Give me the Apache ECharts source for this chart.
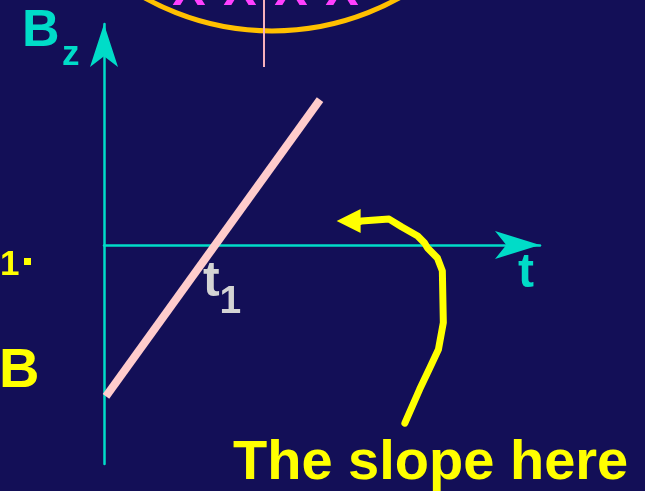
<!DOCTYPE html>
<html lang="en" style="height: 100%">
<head>
<meta charset="utf-8">
</head>
<body style="height: 100%; margin: 0; background: #130f57">
<div id="container" style="width: 645px; height: 491px"></div>
<script type="text/javascript" src="https://fastly.jsdelivr.net/npm/echarts@6/dist/echarts.min.js"></script>
<script type="text/javascript">
// straight B(t) line
var lineT = [0.02, 2.19];
var lineB = [-1.52, 1.46];
// where the line crosses zero
var t1 = [1.13];
// hand drawn yellow pointer
var curveT = [3.05, 3.20, 3.30, 3.39, 3.44, 3.43, 3.38, 3.28, 3.25, 3.18, 3.02, 2.89, 2.61];
var curveB = [-1.79, -1.45, -1.24, -1.05, -0.78, -0.26, -0.13, -0.03, 0.02, 0.09, 0.18, 0.26, 0.24];
var arrowEnd = [2.48, 0.24];
var topMarks = ['X', 'X', 'X', 'X'];

var FONT = '"Liberation Sans", Arial, sans-serif';
var CYAN = '#00dcc8';
var YELLOW = '#ffff00';

var dom = document.getElementById('container');
var myChart = echarts.init(dom, null, { renderer: 'canvas' });

var linePts = lineT.map(function (t, i) { return [t, lineB[i]]; });
var curvePts = curveT.map(function (t, i) { return [t, curveB[i]]; });
var lastPt = curvePts[curvePts.length - 1];

var graphics = [
  {
    type: 'circle',
    shape: { cx: 272, cy: -230, r: 261 },
    style: { fill: 'none', stroke: '#ffc000', lineWidth: 5 }
  },
  {
    type: 'line',
    shape: { x1: 264, y1: 0, x2: 264, y2: 67 },
    style: { stroke: '#f7b0bc', lineWidth: 2 }
  },
  {
    type: 'text', x: 22, y: 32,
    style: { text: 'B', fill: CYAN, font: 'bold 52px ' + FONT, verticalAlign: 'middle' }
  },
  {
    type: 'text', x: 62, y: 55,
    style: { text: 'z', fill: CYAN, font: 'bold 35px ' + FONT, verticalAlign: 'middle' }
  },
  {
    type: 'text', x: 526, y: 274,
    style: { text: 't', fill: CYAN, font: 'bold 48px ' + FONT, align: 'center', verticalAlign: 'middle' }
  },
  {
    type: 'text', x: 0, y: 265,
    style: { text: '1', fill: YELLOW, font: 'bold 35px ' + FONT, verticalAlign: 'middle' }
  },
  {
    type: 'rect',
    shape: { x: 24, y: 258, width: 7, height: 7 },
    style: { fill: YELLOW }
  },
  {
    type: 'text', x: -1, y: 372,
    style: { text: 'B', fill: YELLOW, font: 'bold 56px ' + FONT, verticalAlign: 'middle' }
  },
  {
    type: 'text', x: 233, y: 464,
    style: { text: 'The slope here', fill: YELLOW, font: 'bold 56px ' + FONT, verticalAlign: 'middle' }
  }
];
var markX = [189, 240, 291, 342];
topMarks.forEach(function (m, i) {
  graphics.push({
    type: 'text', x: markX[i], y: -9,
    style: { text: m, fill: '#ff40ff', font: 'bold 50px ' + FONT, align: 'center', verticalAlign: 'middle' }
  });
});

var option = {
  backgroundColor: '#130f57',
  animation: false,
  grid: { left: 104, right: 105, top: 24, bottom: 27 },
  xAxis: {
    type: 'value',
    min: 0,
    max: 4.42,
    axisLine: {
      onZero: true,
      symbol: ['none', 'arrow'],
      symbolSize: [21, 45],
      lineStyle: { color: CYAN, width: 2.5 }
    },
    axisTick: { show: false },
    axisLabel: { show: false },
    splitLine: { show: false }
  },
  yAxis: {
    type: 'value',
    min: -2.2,
    max: 2.22,
    axisLine: {
      show: true,
      onZero: true,
      symbol: ['none', 'arrow'],
      symbolSize: [21, 43],
      lineStyle: { color: CYAN, width: 2.5 }
    },
    axisTick: { show: false },
    axisLabel: { show: false },
    splitLine: { show: false }
  },
  series: [
    {
      type: 'line',
      data: linePts,
      showSymbol: false,
      lineStyle: { color: '#ffcccc', width: 8, cap: 'butt' }
    },
    {
      type: 'scatter',
      data: [[t1[0], 0]],
      symbolSize: 1,
      itemStyle: { color: 'rgba(0,0,0,0)', opacity: 1 },
      label: {
        show: true,
        opacity: 1,
        position: [-12, 13],
        formatter: '{a|t}{b|1}',
        rich: {
          a: { fontSize: 50, fontWeight: 'bold', fontFamily: FONT, color: '#d4d4d4', lineHeight: 56, verticalAlign: 'top' },
          b: { fontSize: 39, fontWeight: 'bold', fontFamily: FONT, color: '#d4d4d4', lineHeight: 56, verticalAlign: 'top', padding: [25, 0, 0, 0] }
        }
      }
    },
    {
      type: 'line',
      data: curvePts,
      showSymbol: false,
      lineStyle: { color: YELLOW, width: 7, join: 'round', cap: 'round' }
    },
    {
      type: 'lines',
      coordinateSystem: 'cartesian2d',
      symbol: ['none', 'triangle'],
      symbolSize: 24,
      lineStyle: { color: YELLOW, width: 7, opacity: 1, curveness: 0 },
      data: [{ coords: [lastPt, arrowEnd] }]
    }
  ],
  graphic: graphics
};

myChart.setOption(option);
window.addEventListener('resize', myChart.resize);
</script>
</body>
</html>
